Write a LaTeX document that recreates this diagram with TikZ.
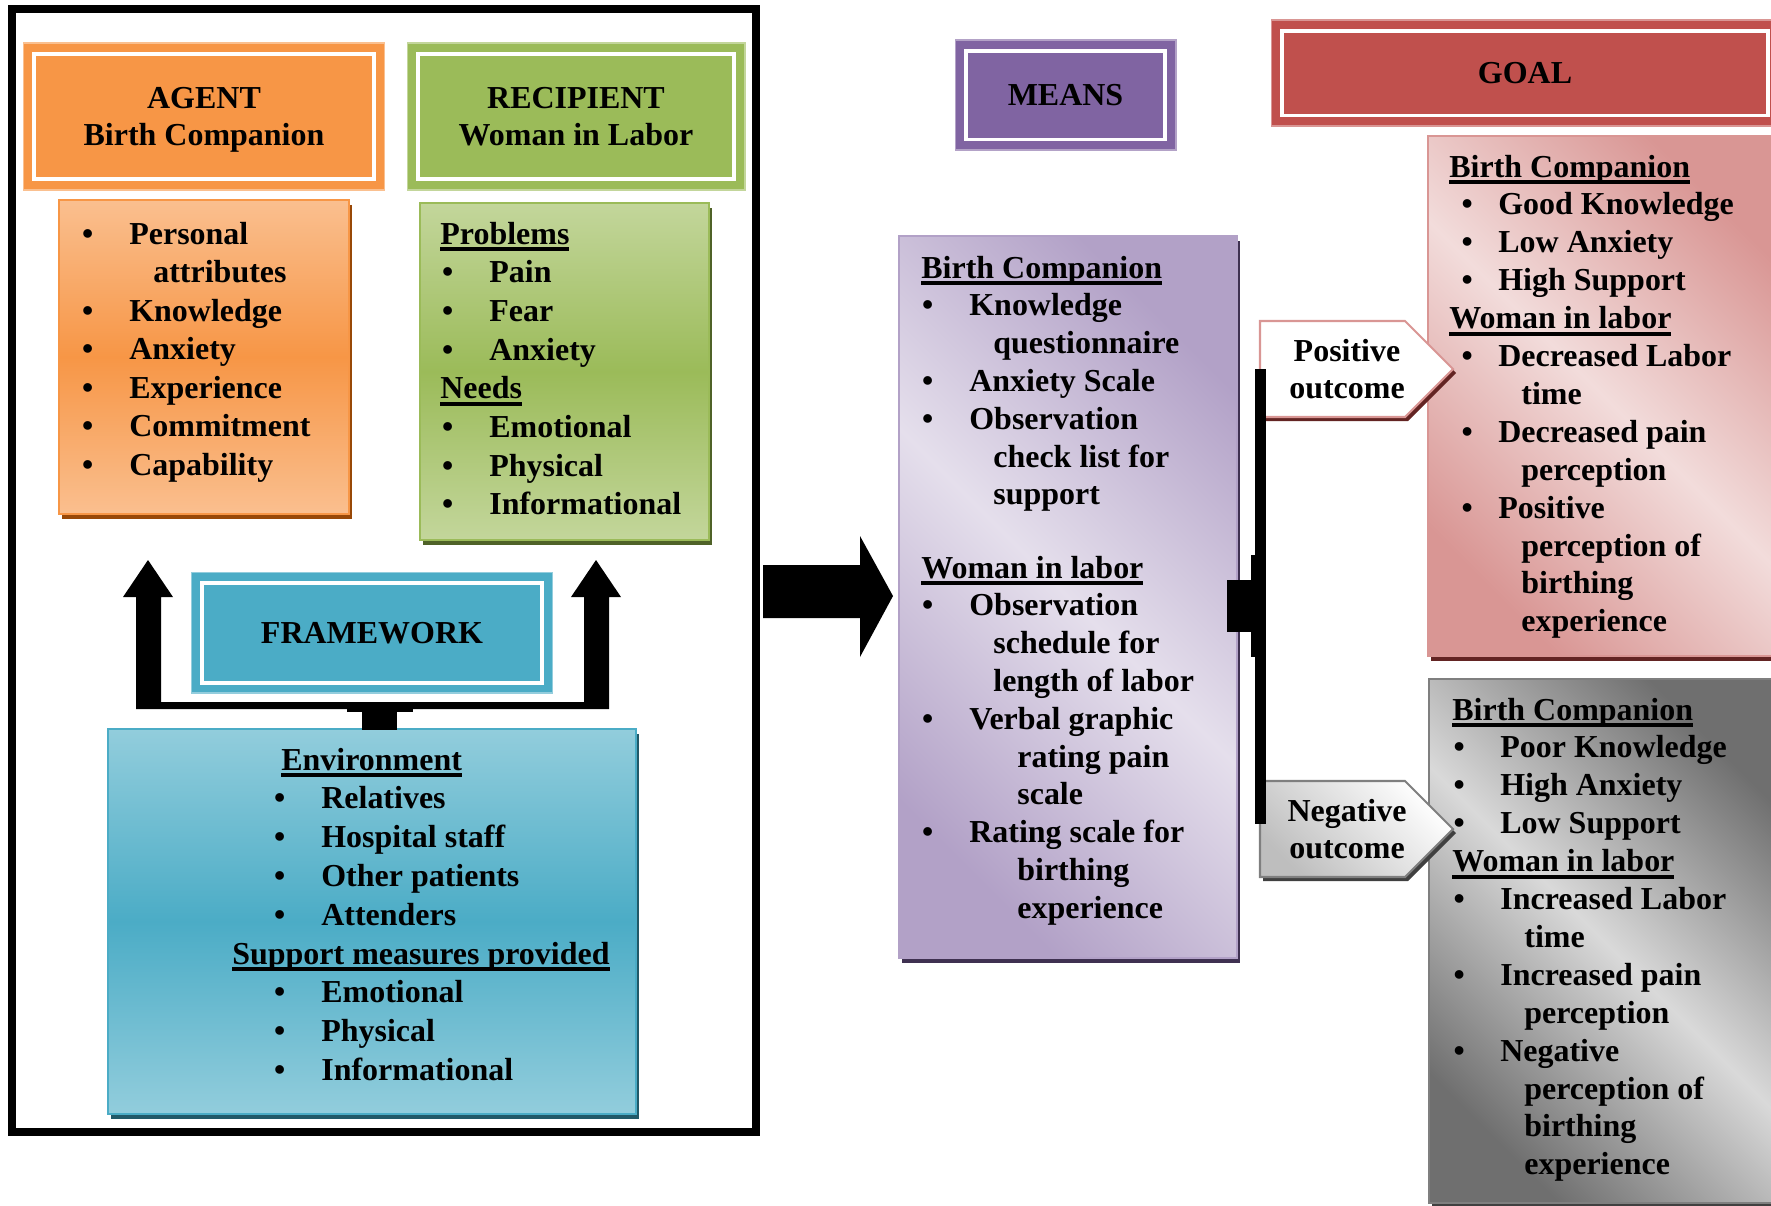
\documentclass[tikz,border=0pt]{standalone}
\usepackage{fontspec}
\setmainfont{Liberation Serif}
\usetikzlibrary{fit,shadows}

\definecolor{orange1}{HTML}{F79646}
\definecolor{orange2}{HTML}{FABF8F}
\definecolor{orange3}{HTML}{984807}
\definecolor{gruen1}{HTML}{9BBB59}
\definecolor{gruen2}{HTML}{C3D69B}
\definecolor{gruen3}{HTML}{4F6228}
\definecolor{blau1}{HTML}{4BACC6}
\definecolor{blau2}{HTML}{92CDDC}
\definecolor{blau3}{HTML}{215968}
\definecolor{lila1}{HTML}{8064A2}
\definecolor{lila2}{HTML}{E5DFEC}
\definecolor{lila3}{HTML}{B2A1C7}
\definecolor{lila4}{HTML}{3F3151}
\definecolor{rot1}{HTML}{C0504D}
\definecolor{rot2}{HTML}{F2DCDB}
\definecolor{rot3}{HTML}{D99694}
\definecolor{rot4}{HTML}{632423}
\definecolor{grau1}{HTML}{7F7F7F}
\definecolor{grau2}{HTML}{D9D9D9}
\definecolor{grau3}{HTML}{6F6F6F}
\definecolor{grau4}{HTML}{404040}

\newcommand\schrift{\bfseries\fontsize{18.2}{21}\selectfont}
\newcommand\bgap{0.72cm}
\newcommand\aufz{\llap{\textbullet\hspace{\bgap}}}
\newcommand\titel[1]{\setbox0\hbox{#1}\rlap{\rule[-0.14cm]{\wd0}{0.08cm}}\box0}

\begin{document}
\begin{tikzpicture}[x=0.02cm,y=-0.02cm,
	zeile/.style={anchor=base west,inner sep=0pt,font=\schrift},
	kopf/.style={fill=#1,draw=#1!60!white,line width=0.6pt,inner sep=0pt,
		align=center,text depth=0pt,font=\schrift,
		path picture={\draw[white,line width=0.08cm]
			([shift={(10.5,10.5)}]path picture bounding box.north west) rectangle
			([shift={(-10.5,-10.5)}]path picture bounding box.south east);}},
	kasten/.style 2 args={inner sep=0pt,draw=#1,line width=1pt,
		general shadow={fill=#2,shadow xshift=0.06cm,shadow yshift=-0.1cm}},
	senkrecht/.style 2 args={top color=#1,bottom color=#1,middle color=#2},
	schraeg/.style 2 args={top color=#2,bottom color=#2,middle color=#1,shading angle=-45},
	ausgang/.style={align=center,inner sep=0pt,text depth=0pt,font=\schrift}]
\useasboundingbox (0,0) rectangle (1771,1205);
\def\liste#1#2#3#4{
	\foreach \xx/\tx [count=\i from 0] in {#4}
		\node[zeile] (#1\i) at (\xx,#2+\i*#3) {\tx};
}
\draw[line width=0.16cm] (12,9) rectangle (756,1132);
\node[kopf=orange1,minimum width=7.24cm,minimum height=2.94cm] (agent) at (204,116.5) {AGENT\\Birth Companion};
\node[kopf=gruen1,minimum width=6.76cm,minimum height=2.94cm] (recipient) at (576,116.5) {RECIPIENT\\Woman in Labor};
\node[kopf=blau1,minimum width=7.24cm,minimum height=2.42cm] (framework) at (372,632.5) {FRAMEWORK};
\node[kopf=lila1,minimum width=4.42cm,minimum height=2.2cm] (means) at (1065.5,95) {MEANS};
\node[kopf=rot1,minimum width=10.16cm,minimum height=2.12cm] (goal) at (1525,73) {GOAL};
\node[kasten={orange1}{orange3},senkrecht={orange2}{orange1},fit={(59,200) (349,514)}] (agentbox) {};
\node[kasten={gruen1}{gruen3},senkrecht={gruen2}{gruen1},fit={(420,203) (709,540)}] (recbox) {};
\node[kasten={blau1}{blau3},senkrecht={blau2}{blau1},fit={(108,729) (636,1114)}] (envbox) {};
\node[kasten={lila3}{lila4},schraeg={lila2}{lila3},fit={(899,236) (1237,958)}] (meansbox) {};
\node[kasten={rot3}{rot4},schraeg={rot2}{rot3},fit={(1428,136) (1779,656)}] (posbox) {};
\node[kasten={grau1}{grau4},schraeg={grau2}{grau3},fit={(1429,679) (1779,1203)}] (negbox) {};
\liste{ag}{244}{38.5}{129/\aufz Personal, 153/attributes, 129/\aufz Knowledge,
	129/\aufz Anxiety, 129/\aufz Experience, 129/\aufz Commitment, 129/\aufz Capability}
\liste{re}{244}{38.7}{440/\titel{Problems}, 489/\aufz Pain, 489/\aufz Fear,
	489/\aufz Anxiety, 440/\titel{Needs}, 489/\aufz Emotional, 489/\aufz Physical,
	489/\aufz Informational}
\liste{en}{770}{38.8}{281/\titel{Environment}, 321/\aufz Relatives,
	321/\aufz Hospital staff, 321/\aufz Other patients, 321/\aufz Attenders,
	232/\titel{Support measures provided}, 321/\aufz Emotional, 321/\aufz Physical,
	321/\aufz Informational}
\liste{mb}{278}{37.8}{921/\titel{Birth Companion}, 969/\aufz Knowledge,
	993/questionnaire, 969/\aufz Anxiety Scale, 969/\aufz Observation,
	993/check list for, 993/support}
\liste{mw}{578}{37.8}{921/\titel{Woman in labor}, 969/\aufz Observation,
	993/schedule for, 993/length of labor, 969/\aufz Verbal graphic,
	1017/rating pain, 1017/scale, 969/\aufz Rating scale for, 1017/birthing,
	1017/experience}
\def\bgap{0.51cm}
\liste{gp}{177}{37.9}{1449/\titel{Birth Companion}, 1498/\aufz Good Knowledge,
	1498/\aufz Low Anxiety, 1498/\aufz High Support, 1449/\titel{Woman in labor},
	1498/\aufz Decreased Labor, 1521/time, 1498/\aufz Decreased pain,
	1521/perception, 1498/\aufz Positive, 1521/perception of, 1521/birthing,
	1521/experience}
\def\bgap{0.71cm}
\liste{gn}{720}{37.9}{1452/\titel{Birth Companion}, 1500/\aufz Poor Knowledge,
	1500/\aufz High Anxiety, 1500/\aufz Low Support, 1452/\titel{Woman in labor},
	1500/\aufz Increased Labor, 1524/time, 1500/\aufz Increased pain,
	1524/perception, 1500/\aufz Negative, 1524/perception of, 1524/birthing,
	1524/experience}
\fill (136,709) -- (136,597) -- (123,597) -- (148,560) -- (173,597) -- (161,597)
	-- (161,702) -- (584,702) -- (584,597) -- (571,597) -- (596,560) -- (621,597)
	-- (609,597) -- (609,709) -- cycle;
\fill (362,709) rectangle (397,730);
\fill (347,708) rectangle (413,712);
\fill (763,565) -- (860,565) -- (860,536) -- (893,596) -- (860,657) -- (860,618)
	-- (763,618) -- cycle;
\path[fill=white,draw=rot3,line width=1.2pt,
	general shadow={fill=rot4,shadow xshift=0.06cm,shadow yshift=-0.08cm}]
	(1260,321) -- (1405,321) -- (1453,369) -- (1405,417) -- (1260,417) -- cycle;
\path[top color=white,bottom color=grau3!45,shading angle=-45,draw=grau1,line width=1.2pt,
	general shadow={fill=grau4,shadow xshift=0.06cm,shadow yshift=-0.08cm}]
	(1260,781) -- (1405,781) -- (1453,829) -- (1405,877) -- (1260,877) -- cycle;
\node[ausgang] (pos) at (1347,369) {Positive\\outcome};
\node[ausgang] (neg) at (1347,829) {Negative\\outcome};
\fill (1227,580) rectangle (1255,632);
\fill (1251,555) rectangle (1255,657);
\fill (1255,369) rectangle (1266,824);
\end{tikzpicture}
\end{document}
